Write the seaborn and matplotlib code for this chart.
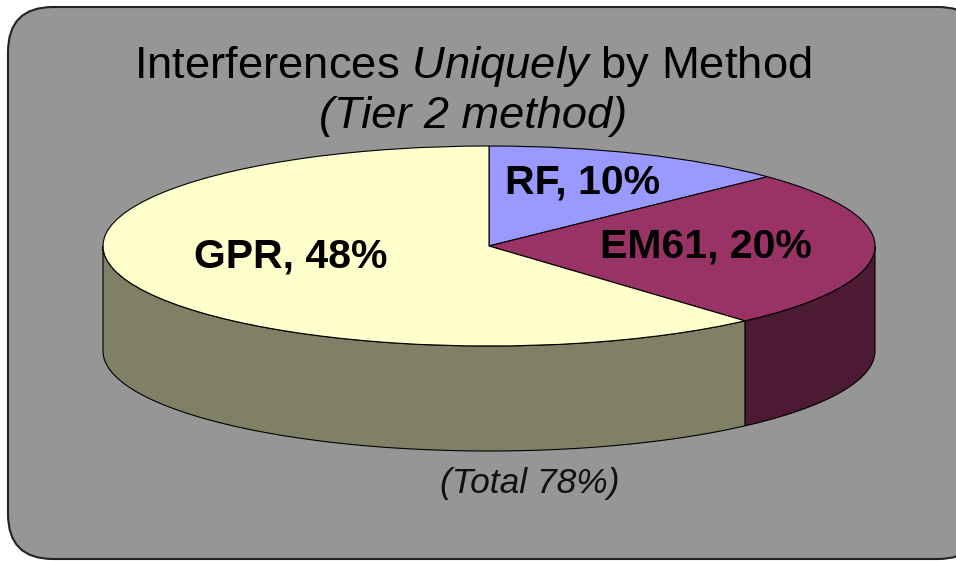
import numpy as np
import matplotlib
matplotlib.use('Agg')
import matplotlib.pyplot as plt
import matplotlib.patches as mpatches
import matplotlib.transforms as mtransforms
import seaborn as sns

# Données
methodes  = ['RF', 'EM61', 'GPR']
valeurs   = [10, 20, 48]
couleurs  = ['#9999FF', '#993366', '#FFFFCC']
total_txt = '(Total 78%)'

sns.set_theme(style="white")
plt.rcParams['font.family'] = ['Liberation Sans', 'DejaVu Sans']
plt.rcParams['mathtext.fontset'] = 'custom'
plt.rcParams['mathtext.it'] = 'Liberation Sans:italic'
plt.rcParams['mathtext.rm'] = 'Liberation Sans'

W, H = 956, 561
fig = plt.figure(figsize=(W / 100, H / 100), dpi=100, facecolor='white')
pix = mtransforms.Affine2D().scale(1 / 100) + fig.dpi_scale_trans

# Cadre gris arrondi
cadre = mpatches.FancyBboxPatch((8, 2), 975, 552,
                                boxstyle="round,pad=0,rounding_size=45",
                                transform=pix, facecolor='#969696',
                                edgecolor='#222222', linewidth=1.5,
                                clip_on=False, zorder=-5)
fig.patches.append(cadre)

# Axe plein cadre : le camembert est un cercle unité écrasé verticalement
cx, cy, rx, ry = 489, 246, 386, 100
ax = fig.add_axes([0, 0, 1, 1], zorder=1)
ax.patch.set_alpha(0)
wedges, _ = ax.pie(valeurs, colors=couleurs, startangle=90, counterclock=False,
                   wedgeprops=dict(edgecolor='black', linewidth=0.8), radius=1)
ax.set_aspect('auto')
ax.set_xlim(-cx / rx, (W - cx) / rx)
ax.set_ylim(-(H - cy) / ry, cy / ry)
ax.set_axis_off()
for w in wedges:
    w.set_zorder(3)

# Flanc 3D (moitié avant)
prof = 1.05
for w, c in zip(wedges, couleurs):
    t1, t2 = w.theta1, w.theta2
    for lo, hi in [(-180, 0), (180, 360), (-540, -360)]:
        a, b = max(t1, lo), min(t2, hi)
        if b <= a:
            continue
        t = np.radians(np.linspace(a, b, 200))
        xs = np.concatenate([np.cos(t), np.cos(t[::-1])])
        ys = np.concatenate([np.sin(t), np.sin(t[::-1]) - prof])
        sombre = tuple(0.5 * v for v in matplotlib.colors.to_rgb(c))
        ax.add_patch(mpatches.Polygon(np.column_stack([xs, ys]), closed=True,
                                      facecolor=sombre, edgecolor='black',
                                      linewidth=0.8, zorder=2))

# Étiquettes
pos_etiq = {'RF': (583, H - 193), 'EM61': (706, H - 258), 'GPR': (291, H - 268)}
for m, v in zip(methodes, valeurs):
    ax.text(*pos_etiq[m], f'{m}, {v}%', transform=pix, ha='center',
            va='baseline', fontsize=29.5, fontweight='bold', color='black', zorder=5)

# Titre
fig.text(473, H - 78, r'Interferences $\mathit{Uniquely}$ by Method', transform=pix,
         ha='center', va='baseline', fontsize=32.7, color='black')
fig.text(473, H - 128, '(Tier 2 method)', transform=pix, ha='center',
         va='baseline', fontsize=32.5, style='italic', color='black')
fig.text(530, H - 493, total_txt, transform=pix, ha='center', va='baseline',
         fontsize=25.5, style='italic', color='#111111')

plt.savefig('out.png', dpi=100, facecolor='white')
